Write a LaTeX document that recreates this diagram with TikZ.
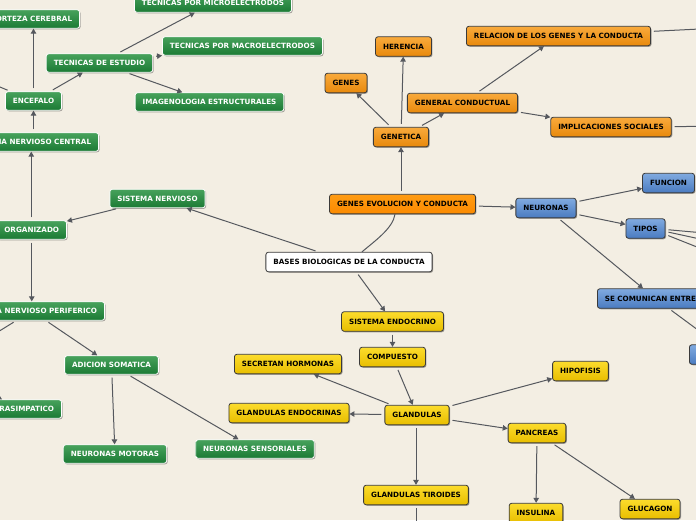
\documentclass[tikz,border=0pt]{standalone}
\usepackage{fontspec}
\setmainfont{DejaVu Sans}
\usetikzlibrary{arrows.meta,shadows,calc}
\definecolor{bg}{HTML}{F3EEE3}
\definecolor{gtop}{HTML}{47A25C}
\definecolor{gbot}{HTML}{1B7A34}
\definecolor{otop}{HTML}{F9AA3C}
\definecolor{obot}{HTML}{E8890C}
\definecolor{ytop}{HTML}{FCDC2C}
\definecolor{ybot}{HTML}{E8BE00}
\definecolor{btop}{HTML}{80AAE0}
\definecolor{bbot}{HTML}{4A7BC0}
\definecolor{gectop}{HTML}{FF9C14}
\definecolor{gecbot}{HTML}{FB8A00}
\definecolor{bdr}{HTML}{3A3A3A}
\definecolor{lk}{HTML}{55585E}
\begin{document}
\begin{tikzpicture}[x=1pt,y=-1pt,
  box/.style={rounded corners=2.5pt, minimum height=19.5pt, inner xsep=7.5pt, inner ysep=0pt,
    font=\bfseries\fontsize{7.2}{8}\selectfont,
    drop shadow={shadow xshift=1pt,shadow yshift=-1pt,opacity=0.35,fill=black}},
  gbox/.style={box, draw=white, line width=0.8pt, top color=gtop, bottom color=gbot, text=white, minimum height=18.5pt},
  obox/.style={box, draw=bdr, line width=0.8pt, top color=otop, bottom color=obot, text=black},
  ybox/.style={box, draw=bdr, line width=0.8pt, top color=ytop, bottom color=ybot, text=black},
  bbox/.style={box, draw=bdr, line width=0.8pt, top color=btop, bottom color=bbot, text=black},
  rootbox/.style={box, draw=bdr, line width=0.8pt, fill=white, text=black},
  conn/.style={draw=lk, line width=1pt},
  link/.style={conn, -{Triangle[length=5pt,width=5.5pt]}, shorten <=3pt},
]
\fill[bg] (0,0) rectangle (696,520);
\useasboundingbox (0,0) rectangle (696,520);

% green nodes
\node[gbox, anchor=east] (cort) at (80,19) {CORTEZA CEREBRAL};
\node[gbox] (micro) at (213,3) {TECNICAS POR MICROELECTRODOS};
\node[gbox] (macro) at (242.5,46) {TECNICAS POR MACROELECTRODOS};
\node[gbox] (tde) at (99.5,63) {TECNICAS DE ESTUDIO};
\node[gbox] (imag) at (209.5,102) {IMAGENOLOGIA ESTRUCTURALES};
\node[gbox] (enc) at (33.5,101) {ENCEFALO};
\node[gbox, anchor=east] (snc) at (99,142) {SISTEMA NERVIOSO CENTRAL};
\node[gbox] (sn) at (157.5,198.5) {SISTEMA NERVIOSO};
\node[gbox, anchor=east] (org) at (67,230) {ORGANIZADO};
\node[gbox, anchor=east] (snp) at (105,311) {SISTEMA NERVIOSO PERIFERICO};
\node[gbox] (adic) at (111.5,365) {ADICION SOMATICA};
\node[gbox, anchor=east] (para) at (62,409) {PARASIMPATICO};
\node[gbox] (nmot) at (115,454) {NEURONAS MOTORAS};
\node[gbox] (nsen) at (255,449) {NEURONAS SENSORIALES};

% orange nodes
\node[obox] (her) at (403.5,46.5) {HERENCIA};
\node[obox] (genes) at (346,83) {GENES};
\node[obox] (rel) at (558.5,36) {RELACION DE LOS GENES Y LA CONDUCTA};
\node[obox] (gc) at (462.5,103) {GENERAL CONDUCTUAL};
\node[obox] (genet) at (401,137) {GENETICA};
\node[obox] (impl) at (611,127) {IMPLICACIONES SOCIALES};
\node[obox, top color=gectop, bottom color=gecbot] (gec) at (402.5,204) {GENES EVOLUCION Y CONDUCTA};

% root
\node[rootbox] (bases) at (349,262) {BASES BIOLOGICAS DE LA CONDUCTA};

% blue nodes
\node[bbox] (neur) at (546,208) {NEURONAS};
\node[bbox] (func) at (668.5,183) {FUNCION};
\node[bbox] (tipos) at (645.5,228.5) {TIPOS};
\node[bbox, anchor=west, text width=110pt, align=left] (secom) at (597,298.5) {SE COMUNICAN ENTRE};
\node[bbox, anchor=west, minimum width=50pt] (bx) at (689,354.5) {};

% yellow nodes
\node[ybox] (send) at (392.5,321.5) {SISTEMA ENDOCRINO};
\node[ybox] (comp) at (392.5,357) {COMPUESTO};
\node[ybox] (secr) at (288,364) {SECRETAN HORMONAS};
\node[ybox] (hipo) at (580.5,371) {HIPOFISIS};
\node[ybox] (gend) at (289,413) {GLANDULAS ENDOCRINAS};
\node[ybox] (glan) at (417,415) {GLANDULAS};
\node[ybox] (panc) at (537,433) {PANCREAS};
\node[ybox] (tir) at (416,495) {GLANDULAS TIROIDES};
\node[ybox] (ins) at (536,513) {INSULINA};
\node[ybox] (glu) at (650,509) {GLUCAGON};

% off-canvas ends
\coordinate (offA) at (-30,74.5);
\coordinate (offB) at (-20,343);
\coordinate (offC) at (-30,383.5);
\coordinate (offD) at (760,26);
\coordinate (offE) at (760,126);
\coordinate (offT1) at (760,238);
\coordinate (offT2) at (760,252);
\coordinate (offT3) at (760,272);
\coordinate (offG) at (740,361);
\coordinate (offH) at (416,560);

% left branch
\draw[link] (bases) -- (sn);
\draw[link] (sn) -- (org);
\draw[link] (org.north -| snc) -- (snc);
\draw[link] (snc.north -| enc) -- (enc);
\draw[link] (enc) -- (enc |- cort.south);
\draw[link] (enc) -- (tde);
\draw[link] (enc) -- (offA);
\draw[link] (tde) -- (micro);
\draw[link] (tde) -- (macro);
\draw[link] (tde) -- (imag);
\draw[link] (org.south -| snp) -- (snp);
\draw[link] (snp) -- (adic);
\draw[link] (snp) -- (offB);
\draw[link] (offC) -- (para);
\draw[link] (adic) -- (nmot);
\draw[link] (adic) -- (nsen);

% top branch
\draw[conn] ([xshift=13pt]bases.north) .. controls (376,240) and (393,228) .. ([xshift=-7.5pt]gec.south);
\draw[link] (gec.north -| genet) -- (genet);
\draw[link] (genet) -- (genes);
\draw[link] (genet) -- (her);
\draw[link] (genet) -- (gc);
\draw[link] (gc) -- (rel);
\draw[link] (gc) -- (impl);
\draw[link] (rel) -- (offD);
\draw[link] (impl) -- (offE);

% right branch
\draw[link] (gec) -- (neur);
\draw[link] (neur) -- (func);
\draw[link] (neur) -- (tipos);
\draw[link] (neur) -- ([xshift=46pt]secom.north west);
\draw[link] ([yshift=-1pt]tipos.east) -- (offT1);
\draw[link] ([yshift=-3pt]tipos.east) -- (offT2);
\draw[link] ([yshift=-6pt]tipos.east) -- (offT3);
\draw[link] ([xshift=72pt]secom.south west) -- (offG);

% bottom branch
\draw[link] (bases) -- (send);
\draw[link] (send) -- (comp);
\draw[link] (comp) -- (glan);
\draw[link] (glan) -- (secr);
\draw[link] (glan) -- (gend);
\draw[link] (glan) -- (hipo);
\draw[link] (glan) -- (panc);
\draw[link] (glan.south -| tir) -- (tir);
\draw[link] (panc) -- (ins);
\draw[link] (panc) -- (glu);
\draw[link] (tir) -- (offH);
\end{tikzpicture}
\end{document}
